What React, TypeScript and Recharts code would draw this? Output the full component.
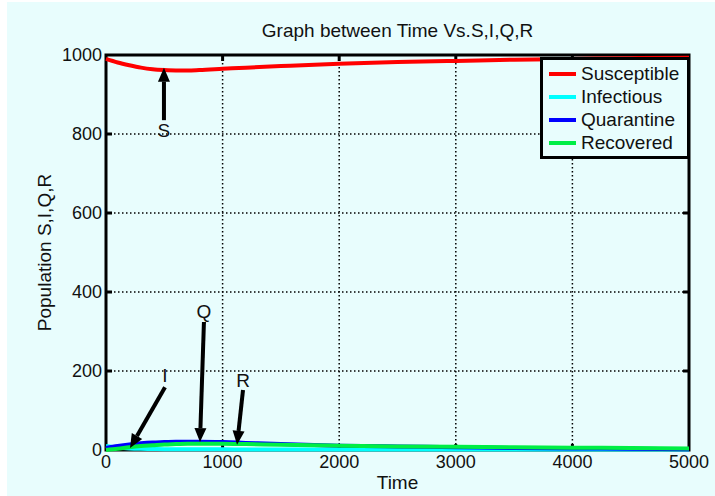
import {
  LineChart,
  Line,
  XAxis,
  YAxis,
  CartesianGrid,
  ReferenceLine,
  ReferenceDot,
  ReferenceArea,
  Legend,
} from "recharts";

const time = [0, 100, 200, 300, 400, 500, 600, 700, 800, 1000, 1200, 1500, 2000, 2500, 3000, 3500, 4000, 4500, 5000];
const susceptible = [990, 981, 974, 968, 964, 962, 961, 961, 962, 965, 968, 972, 978, 982, 985, 988, 990, 992, 993];
const infectious = [10, 6, 4, 3, 2.5, 2, 2, 2, 1.8, 1.6, 1.5, 1.4, 1.2, 1.1, 1, 1, 1, 1, 1];
const quarantine = [5, 10, 14, 17, 19, 20, 21, 21, 21, 20, 18, 15, 11, 9, 7, 5, 4, 3, 2];
const recovered = [0, 3, 7, 10, 12, 14, 15, 16, 16, 16, 15, 13, 11, 9, 8, 7, 6, 5, 4];

const xTicks = [0, 1000, 2000, 3000, 4000, 5000];
const yTicks = [0, 200, 400, 600, 800, 1000];

const series = [
  { key: "S", name: "Susceptible", color: "#ff0000" },
  { key: "I", name: "Infectious", color: "#00ffff" },
  { key: "Q", name: "Quarantine", color: "#0000ff" },
  { key: "R", name: "Recovered", color: "#00ee44" },
];

// arrow annotations: label position, arrow tail and head
const notes = [
  { text: "S", lx: 497, ly: 810, fx: 497, fy: 835, tx: 497, ty: 968 },
  { text: "I", lx: 506, ly: 190, fx: 506, fy: 159, tx: 206, ty: 5 },
  { text: "Q", lx: 840, ly: 352, fx: 840, fy: 324, tx: 806, ty: 20 },
  { text: "R", lx: 1175, ly: 177, fx: 1175, fy: 152, tx: 1124, ty: 13 },
];

const data = time.map((t, i) => ({
  t,
  S: susceptible[i],
  I: infectious[i],
  Q: quarantine[i],
  R: recovered[i],
}));

const font = "'Liberation Sans', Arial, sans-serif";

const Arrow = (p: any) => {
  const { x1, y1, x2, y2 } = p;
  const ang = Math.atan2(y2 - y1, x2 - x1);
  const len = 14;
  const w = 6;
  const bx = x2 - len * Math.cos(ang);
  const by = y2 - len * Math.sin(ang);
  const px = -Math.sin(ang) * w;
  const py = Math.cos(ang) * w;
  return (
    <g>
      <line x1={x1} y1={y1} x2={bx} y2={by} stroke="#000" strokeWidth={4} />
      <polygon points={`${x2},${y2} ${bx + px},${by + py} ${bx - px},${by - py}`} fill="#000" />
    </g>
  );
};

// matlab style inward ticks at both ends of a grid line
const TickMarks = (p: any) => {
  const { x1, y1, x2, y2 } = p;
  const L = 6;
  const dx = x2 - x1;
  const dy = y2 - y1;
  const d = Math.hypot(dx, dy) || 1;
  const ux = (dx / d) * L;
  const uy = (dy / d) * L;
  return (
    <g stroke="#000" strokeWidth={3}>
      <line x1={x1} y1={y1} x2={x1 + ux} y2={y1 + uy} />
      <line x1={x2} y1={y2} x2={x2 - ux} y2={y2 - uy} />
    </g>
  );
};

const LegendBox = () => (
  <div
    style={{
      border: "3px solid #000",
      background: "#e8fdfd",
      padding: "2px 8px 2px 6px",
      fontFamily: font,
      fontSize: 19,
      color: "#111",
      lineHeight: "23px",
    }}
  >
    {series.map((s) => (
      <div key={s.key} style={{ display: "flex", alignItems: "center" }}>
        <span style={{ width: 27, height: 4, background: s.color, marginRight: 5 }} />
        {s.name}
      </div>
    ))}
  </div>
);

export default function App() {
  return (
    <div style={{ position: "absolute", left: 0, top: 0, width: 715, height: 496, background: "#fff" }}>
      <div style={{ position: "absolute", left: 7, top: 2, width: 708, height: 494, background: "#e8fdfd" }} />
      <div
        style={{
          position: "absolute",
          left: 106,
          width: 583,
          top: 20,
          textAlign: "center",
          fontFamily: font,
          fontSize: 19,
          color: "#111",
        }}
      >
        Graph between Time Vs.S,I,Q,R
      </div>
      <div style={{ position: "absolute", left: 0, top: 0 }}>
        <LineChart
          width={715}
          height={496}
          data={data}
          margin={{ top: 55, right: 26, bottom: 0, left: 6 }}
          style={{ fontFamily: font }}
        >
          <CartesianGrid stroke="#000" strokeDasharray="1.5 2.5" strokeWidth={1.5} />
          <XAxis
            dataKey="t"
            type="number"
            domain={[0, 5000]}
            ticks={xTicks}
            tickSize={0}
            tickMargin={5}
            axisLine={false}
            tick={{ fill: "#111", fontSize: 18 }}
            height={46}
            label={{ value: "Time", position: "insideBottom", offset: 7, fill: "#111", fontSize: 19 }}
          />
          <YAxis
            type="number"
            domain={[0, 1000]}
            ticks={yTicks}
            tickSize={0}
            tickMargin={4}
            axisLine={false}
            width={100}
            tick={{ fill: "#111", fontSize: 18 }}
            label={{
              value: "Population S,I,Q,R",
              angle: -90,
              position: "insideLeft",
              offset: 38,
              style: { textAnchor: "middle" },
              fill: "#111",
              fontSize: 19,
            }}
          />
          {xTicks.slice(1, -1).map((v) => (
            <ReferenceLine key={"xt" + v} x={v} shape={TickMarks} />
          ))}
          {yTicks.slice(1, -1).map((v) => (
            <ReferenceLine key={"yt" + v} y={v} shape={TickMarks} />
          ))}
          {series.map((s) => (
            <Line
              key={s.key}
              dataKey={s.key}
              name={s.name}
              type="monotone"
              stroke={s.color}
              strokeWidth={4}
              dot={false}
              isAnimationActive={false}
            />
          ))}
          <ReferenceArea x1={0} x2={5000} y1={0} y2={1000} fill="none" stroke="#000" strokeWidth={3} />
          {notes.map((n) => (
            <ReferenceLine
              key={"a" + n.text}
              segment={[
                { x: n.fx, y: n.fy },
                { x: n.tx, y: n.ty },
              ]}
              shape={Arrow}
            />
          ))}
          {notes.map((n) => (
            <ReferenceDot
              key={"l" + n.text}
              x={n.lx}
              y={n.ly}
              r={0}
              fill="none"
              stroke="none"
              label={{ value: n.text, position: "center", fill: "#111", fontSize: 19 }}
            />
          ))}
          <Legend
            layout="vertical"
            align="center"
            verticalAlign="middle"
            wrapperStyle={{ left: 540, top: 57, width: "auto", height: "auto" }}
            content={() => <LegendBox />}
          />
        </LineChart>
      </div>
    </div>
  );
}
